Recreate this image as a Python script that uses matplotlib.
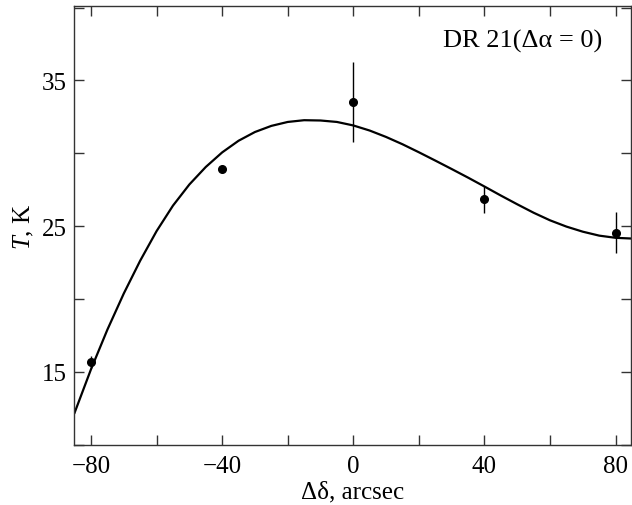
import matplotlib
matplotlib.use("Agg")
import matplotlib.pyplot as plt
from matplotlib.ticker import FixedLocator, FuncFormatter

plt.rcParams['font.family'] = ['Liberation Serif', 'DejaVu Serif']
plt.rcParams['mathtext.fontset'] = 'custom'
plt.rcParams['mathtext.rm'] = 'Liberation Serif'
plt.rcParams['mathtext.it'] = 'Liberation Serif:italic'

# measured points
offset = [-80, -40, 0, 40, 80]
temp = [15.66, 28.9, 33.5, 26.85, 24.55]
temp_err = [0.4, 0.0, 2.73, 0.92, 1.4]

# fitted curve
curve_x = [-85, -80, -75, -70, -65, -60, -55, -50, -45, -40, -35, -30, -25, -20,
           -15, -10, -5, 0, 5, 10, 15, 20, 25, 30, 35, 40, 45, 50, 55, 60, 65,
           70, 75, 80, 85]
curve_t = [12.2, 15.18, 17.9, 20.38, 22.63, 24.66, 26.41, 27.86, 29.06, 30.06,
           30.86, 31.46, 31.88, 32.15, 32.27, 32.25, 32.15, 31.91, 31.56, 31.12,
           30.62, 30.07, 29.5, 28.92, 28.33, 27.72, 27.1, 26.5, 25.92, 25.4,
           24.97, 24.62, 24.35, 24.2, 24.15]

x_ticks = [-80, -60, -40, -20, 0, 20, 40, 60, 80]
x_labels = [-80, -40, 0, 40, 80]
y_ticks = [10, 15, 20, 25, 30, 35, 40]
y_labels = [15, 25, 35]

fig = plt.figure(figsize=(6.32, 5.06), dpi=100)
ax = fig.add_axes([0.117, 0.119, 0.882, 0.867])

ax.plot(curve_x, curve_t, color='black', lw=1.6)
ax.errorbar(offset, temp, yerr=temp_err, fmt='o', color='black', ms=5.5,
            elinewidth=1.0, capsize=0)

ax.set_xlim(-85.2, 84.8)
ax.set_ylim(10, 40.1)

ax.xaxis.set_major_locator(FixedLocator(x_ticks))
ax.yaxis.set_major_locator(FixedLocator(y_ticks))
ax.xaxis.set_major_formatter(FuncFormatter(
    lambda v, p: ('%d' % v).replace('-', '\u2212') if int(v) in x_labels else ''))
ax.yaxis.set_major_formatter(FuncFormatter(
    lambda v, p: '%d' % v if int(v) in y_labels else ''))
ax.tick_params(direction='in', length=7, width=1.0, top=True, right=True,
               labelsize=18, color='#333333')
ax.tick_params(axis='x', pad=7)
ax.tick_params(axis='y', pad=5)
for s in ax.spines.values():
    s.set_linewidth(1.0)
    s.set_color('#333333')

ax.set_xlabel('\u0394\u03b4, arcsec', fontsize=18, labelpad=3)
ax.set_ylabel('$T$, K', fontsize=18, labelpad=4)
ax.text(0.948, 0.921, 'DR 21(\u0394\u03b1 = 0)', transform=ax.transAxes,
        ha='right', va='center', fontsize=19)

fig.savefig('out.png', dpi=100)
